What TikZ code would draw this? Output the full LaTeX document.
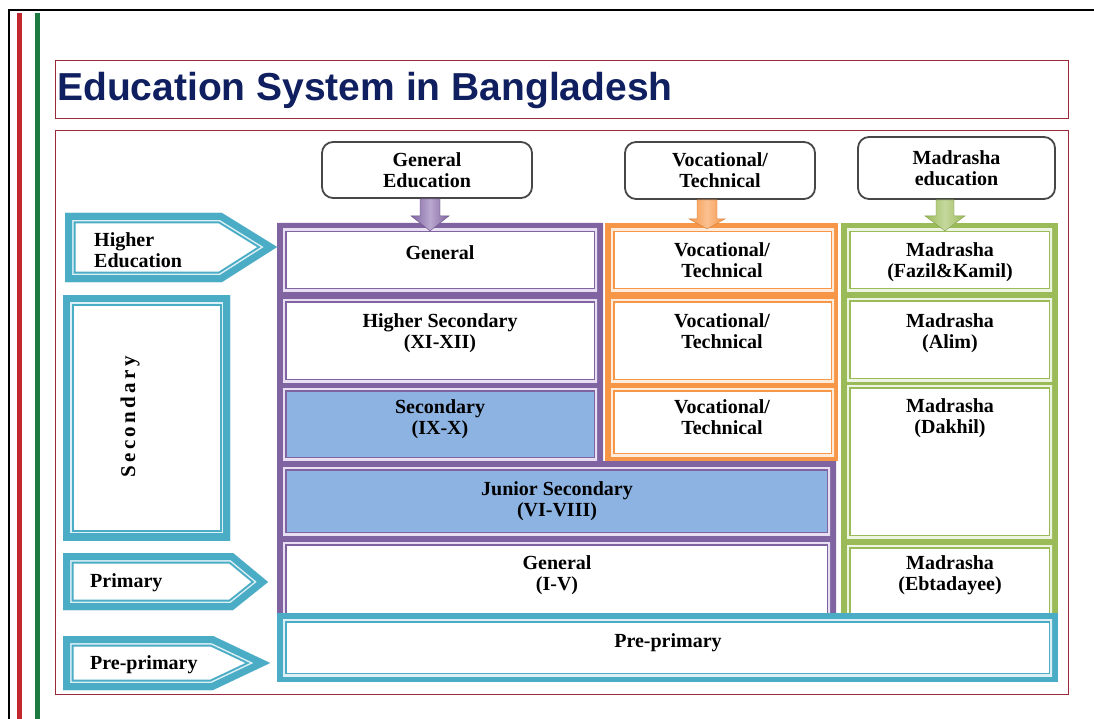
\documentclass[tikz,border=0pt]{standalone}
\usepackage{fontspec}
\setmainfont{Liberation Serif}
\newfontfamily\titlefont{Liberation Sans}
\usetikzlibrary{calc}

\definecolor{purp}{HTML}{8064A2}
\definecolor{purplight}{HTML}{E8E0F2}
\definecolor{org}{HTML}{F79646}
\definecolor{orglight}{HTML}{FDEBDC}
\definecolor{grn}{HTML}{9BBB59}
\definecolor{grnlight}{HTML}{EEF4E2}
\definecolor{tealc}{HTML}{4BACC6}
\definecolor{teallight}{HTML}{DDF0F5}
\definecolor{cellblue}{HTML}{8DB3E2}
\definecolor{titlenavy}{HTML}{0F1F5F}
\definecolor{barred}{HTML}{C1272D}
\definecolor{bargreen}{HTML}{1D7A40}
\definecolor{framered}{HTML}{9A2A3A}

% a cell: fill, then a light inner rule and a thin rule in the column colour
\newcommand\eduCell[5]{%
  \fill[#3] #4 rectangle #5;
  \begin{scope}
    \clip #4 rectangle #5;
    \draw[#1, line width=7pt] #4 rectangle #5;
    \draw[#2, line width=4pt] #4 rectangle #5;
  \end{scope}}

% a level tag: thick teal band, light rule, thin teal rule, white inside
\newcommand\eduTag[1]{%
  \fill[white] #1;
  \begin{scope}
    \clip #1;
    \draw[tealc, line width=21pt, line join=miter] #1;
    \draw[teallight, line width=17pt, line join=miter] #1;
    \draw[tealc, line width=14pt, line join=miter] #1;
  \end{scope}}

\tikzset{
  celltext/.style={font=\bfseries\fontsize{20}{21.5}\selectfont, align=center,
    inner sep=0pt, anchor=north, text=black},
  tagtext/.style={font=\bfseries\fontsize{20}{21}\selectfont, align=left,
    inner sep=0pt, text=black},
  hdr/.style={draw=black!72, line width=1.8pt, rounded corners=11pt, fill=white,
    font=\bfseries\fontsize{20}{21}\selectfont, align=center, inner sep=0pt,
    text=black},
  framebox/.style={draw=framered, line width=0.8pt},
}

\begin{document}
\begin{tikzpicture}[x=1pt,y=-1pt]
\useasboundingbox (0,0) rectangle (1094,719);
\fill[white] (0,0) rectangle (1094,719);

% slide edge and side bars
\draw[black, line width=1.2pt] (1094,10) -- (9,10) -- (9,719);
\fill[barred] (17,13) rectangle (22,719);
\fill[bargreen] (35,13) rectangle (40,719);

% title
\draw[framebox] (55,60) rectangle (1068,118);
\node[anchor=base west, inner sep=0pt, text=titlenavy,
  font=\titlefont\bfseries\fontsize{39}{39}\selectfont] (title) at (57,101)
  {Education System in Bangladesh};

% content frame
\draw[framebox] (55,130) rectangle (1068,694);

% column bands
\fill[purp] (277,223) -- (603,223) -- (603,461) -- (836,461) -- (836,616) -- (277,616) -- cycle;
\fill[org] (605,223) rectangle (838,461);
\fill[grn] (841,223) rectangle (1058,616);

% general education cells
\eduCell{purp}{purplight}{white}{(283,229)}{(597,291)}
\eduCell{purp}{purplight}{white}{(283,299)}{(597,382)}
\eduCell{purp}{purplight}{cellblue}{(283,388)}{(597,460)}
\eduCell{purp}{purplight}{cellblue}{(283,467)}{(830,535)}
\eduCell{purp}{purplight}{white}{(283,542)}{(830,616)}

% vocational cells
\eduCell{org}{orglight}{white}{(611,229)}{(834,291)}
\eduCell{org}{orglight}{white}{(611,299)}{(834,382)}
\eduCell{org}{orglight}{white}{(611,388)}{(834,456)}

% madrasha cells
\eduCell{grn}{grnlight}{white}{(847,229)}{(1052,291)}
\eduCell{grn}{grnlight}{white}{(847,298)}{(1052,381)}
\eduCell{grn}{grnlight}{white}{(847,385)}{(1052,538)}
\eduCell{grn}{grnlight}{white}{(847,545)}{(1052,616)}

% pre-primary band
\fill[tealc] (277,613) rectangle (1058,682);
\eduCell{tealc}{teallight}{white}{(283,619)}{(1052,676)}

% stream headers
\node[hdr, minimum width=210pt, minimum height=56pt] (ge) at (427,170) {General\\Education};
\node[hdr, minimum width=190pt, minimum height=57pt] (vt) at (720,170.5) {Vocational/\\Technical};
\node[hdr, minimum width=197pt, minimum height=62pt] (me) at (956.5,168) {Madrasha\\education};

% block arrows from headers into the columns
\begin{scope}[shift={($(ge.south)+(3,0)$)}]
  \path[left color=purp, right color=purp, middle color=purplight!55!purp, draw=purp!85!black, line width=0.4pt]
    (-10,0) -- (10,0) -- (10,17) -- (19,17) -- (0,32) -- (-19,17) -- (-10,17) -- cycle;
\end{scope}
\begin{scope}[shift={($(vt.south)+(-13,0)$)}]
  \path[left color=org, right color=org, middle color=orglight!50!org, draw=org!85!black, line width=0.4pt]
    (-10,0) -- (10,0) -- (10,19) -- (18,19) -- (0,29) -- (-18,19) -- (-10,19) -- cycle;
\end{scope}
\begin{scope}[shift={($(me.south)+(-11.5,0)$)}]
  \path[left color=grn, right color=grn, middle color=grnlight!50!grn, draw=grn!85!black, line width=0.4pt]
    (-9,0) -- (9,0) -- (9,16) -- (20,16) -- (0,31) -- (-20,16) -- (-9,16) -- cycle;
\end{scope}

% cell texts
\node[celltext] (tgenh) at (440,245) {General};
\node[celltext] (thsc) at (440,313) {Higher Secondary\\(XI-XII)};
\node[celltext] (tssc) at (440,399) {Secondary\\(IX-X)};
\node[celltext] (tjsc) at (557,481) {Junior Secondary\\(VI-VIII)};
\node[celltext] (tprim) at (557,555) {General\\(I-V)};
\node[celltext] (tvoca) at (722,242) {Vocational/\\Technical};
\node[celltext] (tvocb) at (722,313) {Vocational/\\Technical};
\node[celltext] (tvocc) at (722,399) {Vocational/\\Technical};
\node[celltext] (tfazil) at (950,242) {Madrasha\\(Fazil\&Kamil)};
\node[celltext] (talim) at (950,313) {Madrasha\\(Alim)};
\node[celltext] (tdakhil) at (950,398) {Madrasha\\(Dakhil)};
\node[celltext] (tebt) at (950,555) {Madrasha\\(Ebtadayee)};
\node[celltext] (tpre) at (668,633) {Pre-primary};

% level tags
\eduTag{(65,213) -- (222,213) -- (277,247) -- (222,282) -- (65,282) -- cycle}
\eduTag{(63,295) -- (230,295) -- (230,540) -- (63,540) -- cycle}
\eduTag{(63,553) -- (233,553) -- (268,582) -- (233,610) -- (63,610) -- cycle}
\eduTag{(63,636) -- (213,636) -- (270,663) -- (213,690) -- (63,690) -- cycle}

\node[tagtext, anchor=north west] (lhigher) at (94,232) {Higher\\Education};
\node[tagtext, rotate=90, font=\bfseries\fontsize{21}{21}\selectfont] (lsec) at (130,417)
  {\addfontfeature{LetterSpace=16}Secondary};
\node[tagtext, anchor=north west] (lprim) at (90,573) {Primary};
\node[tagtext, anchor=north west] (lpre) at (90,655) {Pre-primary};
\end{tikzpicture}
\end{document}
